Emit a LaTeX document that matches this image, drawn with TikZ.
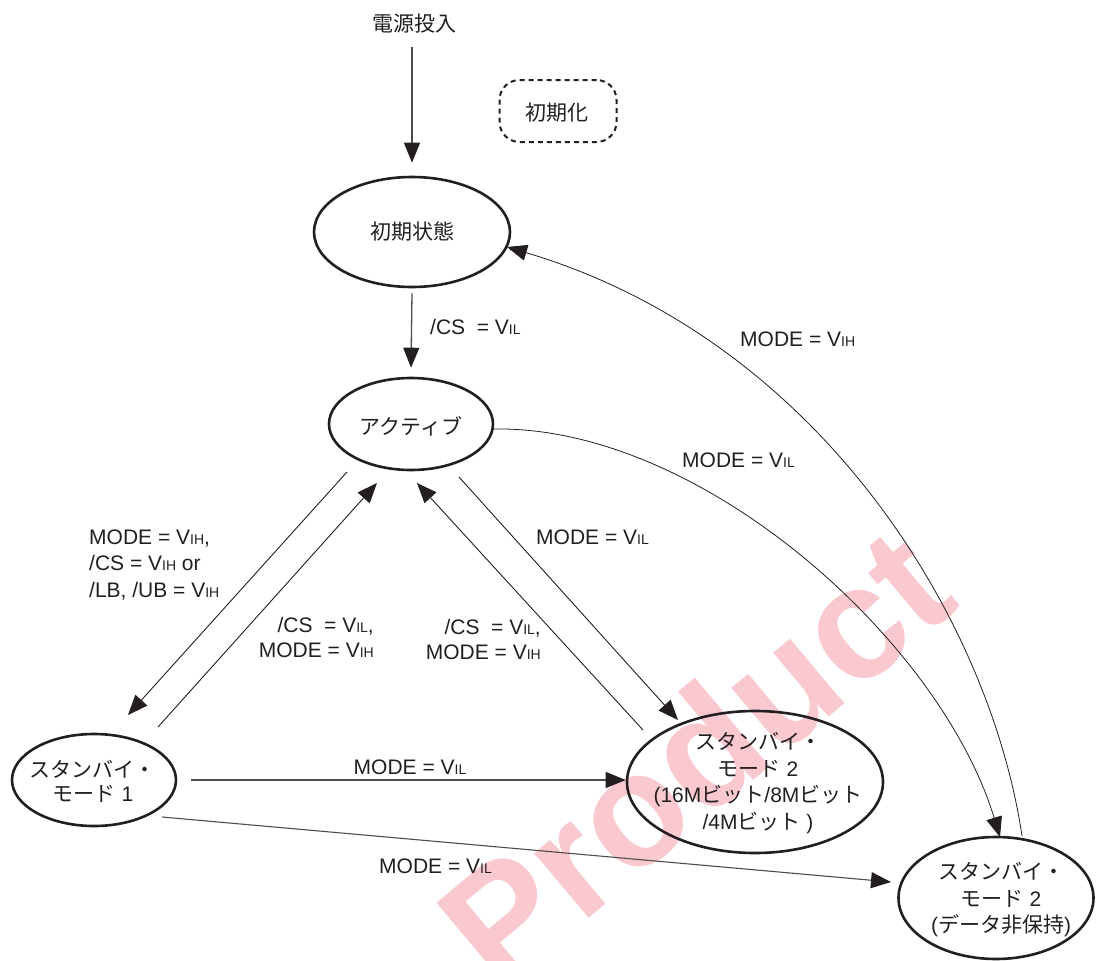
\documentclass[tikz,border=0pt]{standalone}
\usepackage{fontspec}
\setmainfont{Liberation Sans}
\newfontfamily\cjk{Noto Sans CJK JP}
\usetikzlibrary{arrows.meta,calc,shapes.geometric}
\definecolor{ink}{RGB}{35,31,32}
\definecolor{wm}{RGB}{232,10,36}
\newcommand{\sbs}[1]{{\fontsize{14}{14}\selectfont #1}}
\newcommand{\J}[1]{{\cjk #1}}
\begin{document}
\begin{tikzpicture}[x=1pt,y=-1pt,
  state/.style={ellipse, draw=ink, line width=2.6pt, inner sep=0pt},
  lbl/.style={text=ink, inner sep=0pt, font=\fontsize{21}{26.5}\selectfont},
  tip/.style={-{Triangle[length=20pt,width=16pt,color=ink]}},
  conn/.style={draw=ink, line width=0.9pt, tip},
  connthick/.style={draw=ink!80, line width=1.3pt, tip},
  curvecon/.style={draw=ink, line width=0.8pt, tip},
  wmark/.style={inner sep=0pt, text=wm!22, font=\fontsize{160}{160}\selectfont\bfseries}
]
\fill[white] (0,0) rectangle (1096,961);
\useasboundingbox (0,0) rectangle (1096,961);

% watermark
\node[wmark, rotate=40] (wmk) at (694,756) {Product};

% states
\node[state, minimum width=196pt, minimum height=110pt] (init) at (412,232) {};
\node[state, minimum width=164pt, minimum height=92pt] (act) at (411,424) {};
\node[state, minimum width=164pt, minimum height=92pt] (sb1) at (94,780) {};
\node[state, minimum width=256pt, minimum height=142pt] (sb2) at (755,782) {};
\node[state, minimum width=195pt, minimum height=122pt] (sb3) at (996,898) {};
\node[draw=ink, dash pattern=on 5pt off 4pt, line width=2pt, rounded corners=20pt,
      minimum width=117pt, minimum height=62pt, inner sep=0pt] (initz) at (558,111) {};

% state texts
\node[lbl] (pw) at (414,24) {\J{電源投入}};
\node[lbl] (initzt) at (557,113) {\J{初期化}};
\node[lbl] (initt) at (init) {\J{初期状態}};
\node[lbl] (actt) at ($(act)+(0,2)$) {\J{アクティブ}};
\node[lbl, align=center, font=\fontsize{21}{24}\selectfont] (sb1t) at ($(sb1)+(-1,1)$) {\J{スタンバイ・}\\\J{モード} 1};
\node[lbl, align=center] (sb2t) at ($(sb2)+(3,1)$) {\J{スタンバイ・}\\\J{モード} 2\\(16M\J{ビット}/8M\J{ビット}\\/4M\J{ビット} )};
\node[lbl, align=center] (sb3t) at ($(sb3)+(5,2)$) {\J{スタンバイ・}\\\J{モード} 2\\(\J{データ非保持})};

% labels
\node[lbl, anchor=west] (l1) at (430,327) {/CS\ \ = V\sbs{IL}};
\node[lbl, anchor=west] (l2) at (740,339) {MODE = V\sbs{IH}};
\node[lbl, anchor=west] (l3) at (682,460) {MODE = V\sbs{IL}};
\node[lbl, anchor=west] (l4) at (536,537) {MODE = V\sbs{IL}};
\node[lbl, anchor=north west, align=left] (l5) at (89,529.5) {MODE = V\sbs{IH},\\/CS = V\sbs{IH} or\\/LB, /UB = V\sbs{IH}};
\node[lbl, anchor=north east, align=right, font=\fontsize{21}{24.5}\selectfont] (l6) at (374,617.5) {/CS\ \ = V\sbs{IL},\\MODE = V\sbs{IH}};
\node[lbl, anchor=north east, align=right, font=\fontsize{21}{25}\selectfont] (l7) at (541,619.5) {/CS\ \ = V\sbs{IL},\\MODE = V\sbs{IH}};
\node[lbl] (l8) at (410,767) {MODE = V\sbs{IL}};
\node[lbl, anchor=west] (l9) at (379,866) {MODE = V\sbs{IL}};

% connectors
\draw[connthick] ($(pw.center)+(-2,23)$) -- ($(init.north)+(0,-13)$);
\draw[connthick] ($(init.south)+(0,5)$) -- ($(act.north)+(0,-9)$);
\draw[conn] ($(act.center)+(-64,48)$) -- ($(sb1.center)+(34,-65)$);
\draw[conn] ($(sb1.center)+(64,-53)$) -- ($(act.center)+(-34,59)$);
\draw[conn] ($(sb2.center)+(-112,-52)$) -- ($(act.center)+(6,59)$);
\draw[conn] ($(act.center)+(48,53)$) -- ($(sb2.center)+(-77,-62)$);
\draw[connthick] ($(sb1.east)+(14,0)$) -- (sb2.west |- sb1.east);
\draw[connthick, line width=1.1pt] ($(sb1.center)+(68,37)$) -- ($(sb3.center)+(-105,-16)$);
\draw[curvecon] ($(act.center)+(82,5)$) .. controls (700,425) and (940,640) .. ($(sb3.center)+(4,-61)$);
\draw[curvecon] ($(sb3.center)+(26,-62)$) .. controls (990,620) and (820,340) .. ($(init.center)+(95,15)$);
\end{tikzpicture}
\end{document}
